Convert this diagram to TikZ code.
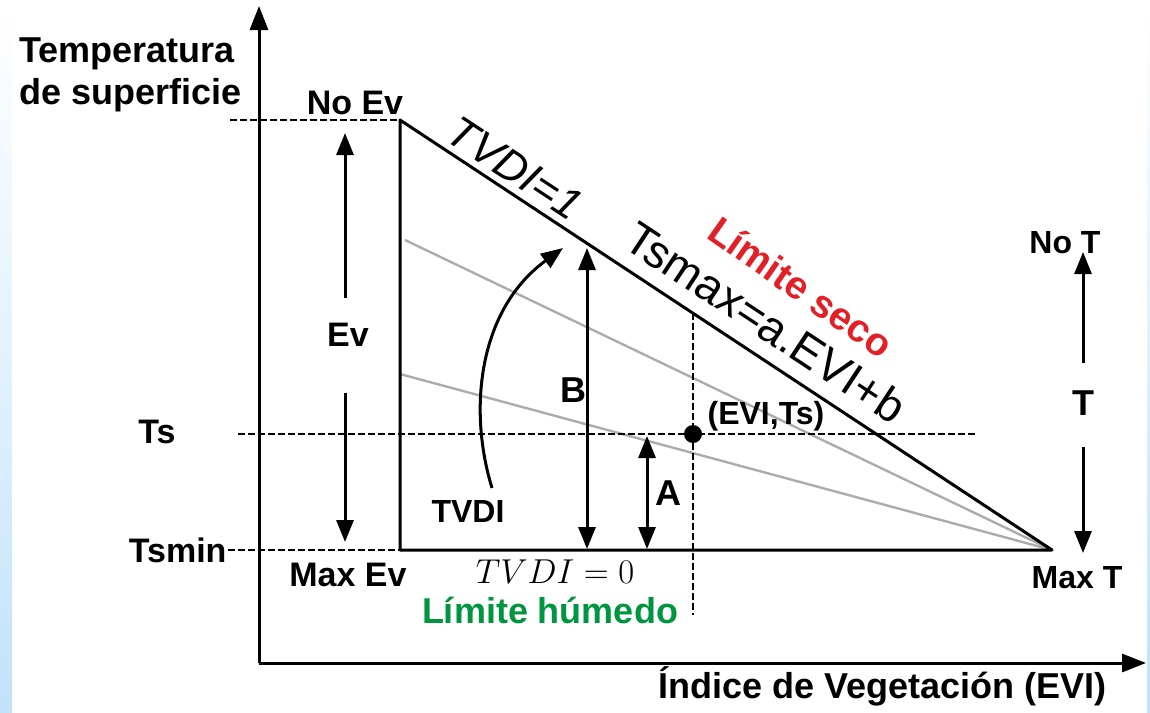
\documentclass[tikz,border=0pt]{standalone}
\usepackage{fontspec}
\setmainfont{Liberation Sans}
\usetikzlibrary{arrows.meta}
\definecolor{seco}{RGB}{226,32,38}
\definecolor{humedo}{RGB}{0,150,64}
\definecolor{fondo}{RGB}{192,226,250}
\definecolor{gris}{RGB}{172,172,172}
\tikzset{
  lbl/.style={font=\bfseries\fontsize{17}{20}\selectfont, inner sep=0pt},
  lblg/.style={font=\bfseries\fontsize{18}{21}\selectfont, inner sep=0pt},
  lblp/.style={font=\bfseries\fontsize{16}{19}\selectfont, inner sep=0pt},
  guia/.style={dash pattern=on 3.5pt off 1.5pt, line width=1.4pt},
  eje/.style={-{Triangle[length=12pt,width=9pt]}, line width=1.5pt}
}
\begin{document}
\begin{tikzpicture}[x=0.5pt, y=-0.5pt, >={Triangle[length=11pt,width=8.5pt]}, line width=1.5pt]
  \useasboundingbox (0,0) rectangle (1150,712);
  % fondo
  \shade[top color=white, bottom color=fondo, middle color=fondo!45] (0,0) rectangle (12,712);
  \shade[top color=white, bottom color=fondo] (1147,0) rectangle (1150,712);
  % puntos
  \coordinate (o) at (259,663);
  \coordinate (ytip) at (259,6);
  \coordinate (xtip) at (1146,663);
  \coordinate (noev) at (400,120);
  \coordinate (maxev) at (400,550);
  \coordinate (maxt) at (1052,550);
  \coordinate (g1) at (405,240);
  \coordinate (g2) at (400,374);
  \coordinate (noevl) at (230,120);
  \coordinate (tsl) at (238,434);
  \coordinate (tsr) at (975,434);
  \coordinate (tsminl) at (228,550);
  \coordinate (evis) at (693,313);
  \coordinate (evii) at (693,615);
  \coordinate (punto) at (693,434);
  % ejes
  \draw[eje] (o) -- (ytip);
  \draw[eje] (o) -- (xtip);
  % rectas grises
  \draw[gris, line width=1.2pt] (g1) -- (maxt);
  \draw[gris, line width=1.2pt] (g2) -- (maxt);
  % triangulo
  \draw[line join=round] (noev) -- (maxev) -- (maxt) -- cycle;
  % guias
  \draw[guia] (noevl) -- (noev);
  \draw[guia] (tsl) -- (tsr);
  \draw[guia] (tsminl) -- (maxev);
  \draw[guia] (evis) -- (evii);
  \fill (punto) circle (9);
  % textos
  \node[lblg, anchor=north west, align=left] (ytit) at (18,36) {Temperatura\\de superficie};
  \node[lblg, anchor=base east] (xtit) at (1108,698) {Índice de Vegetación (EVI)};
  \node[lbl] (noevt) at (355,103) {No Ev};
  \node[lbl] (ev) at (348,335) {Ev};
  \node[lbl] (ts) at (157,432) {Ts};
  \node[lbl, anchor=east] (tsmin) at (tsminl) {Tsmin};
  \node[lbl] (maxevt) at (348,575) {Max Ev};
  \node[inner sep=0pt, anchor=base, font=\fontsize{18}{22}\selectfont] (tvdi0) at (555,583) {$TVDI = 0$};
  \node[lblg, text=humedo] (humt) at (550,610) {Límite húmedo};
  \node[lblp] (tvdi) at (468,511) {TVDI};
  \node[lblg] (b) at (573,390) {B};
  \node[lblg] (a) at (668,493) {A};
  \node[lblp] (evits) at (766,416) {(EVI,Ts)};
  \node[lblp] (not) at (1065,243) {No T};
  \node[lblg] (t) at (1083,403) {T};
  \node[lblp] (maxtt) at (1077,578) {Max T};
  \node[inner sep=0pt, rotate=-33.4, font=\itshape\fontsize{22}{26}\selectfont] (tvdi1) at (515,168) {TVDI=1};
  \node[inner sep=0pt, rotate=-33.4, font=\fontsize{23}{27}\selectfont] (tsmax) at (766,322) {Tsmax=a.EVI+b};
  \node[inner sep=0pt, rotate=-35, text=seco, font=\bfseries\fontsize{19.5}{23}\selectfont] (secot) at (801,287) {Límite seco};
  % flechas
  \coordinate (evarr) at (345,133);
  \coordinate (evarr0) at (345,298);
  \coordinate (evab) at (345,542);
  \coordinate (evab0) at (345,393);
  \draw[->] (evarr0) -- (evarr);
  \draw[->] (evab0) -- (evab);
  \coordinate (b1) at (587,248);
  \coordinate (b0) at (587,549);
  \draw[<->] (b1) -- (b0);
  \coordinate (a1) at (647,436);
  \coordinate (a0) at (647,549);
  \draw[<->] (a1) -- (a0);
  \coordinate (tarr) at (1083,252);
  \coordinate (tarr0) at (1083,363);
  \coordinate (tab) at (1083,553);
  \coordinate (tab0) at (1083,447);
  \draw[->] (tarr0) -- (tarr);
  \draw[->] (tab0) -- (tab);
  \coordinate (curva0) at (492,488);
  \coordinate (curva1) at (563,248);
  \draw[->] (curva0) .. controls (468,410) and (478,310) .. (curva1);
\end{tikzpicture}
\end{document}
